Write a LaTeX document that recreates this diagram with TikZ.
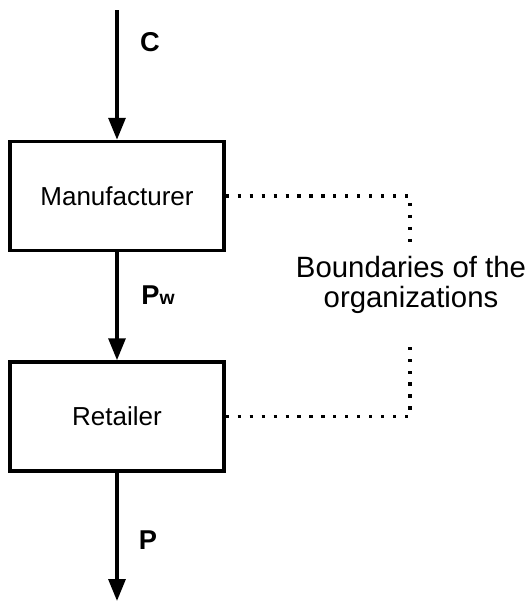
\documentclass[tikz,border=0pt]{standalone}
\usepackage{fontspec}
\setmainfont{Liberation Sans}
\usepackage{tikz}
\usetikzlibrary{arrows.meta,shapes}
\usetikzlibrary{calc}

\tikzset{
	firm/.style={draw, line width=2pt, minimum width=4.28cm, minimum height=2.18cm, inner sep=0pt, font=\fontsize{14.8}{17}\selectfont},
	flow/.style={line width=2pt, -{Triangle[length=12.5pt,width=9.6pt]}},
	boundary/.style={line width=1.8pt, dash pattern=on 1.8pt off 5pt},
	price/.style={font=\fontsize{15.5}{18}\selectfont\bfseries}
}

\begin{document}
\begin{tikzpicture}

	\useasboundingbox (0,0) rectangle (10.54,-12.06);

	\node[firm] (mfr) at (2.34,-3.92) {Manufacturer};
	\node[firm] (ret) at (2.34,-8.33) {Retailer};

	\coordinate (in) at (2.34,-0.2);
	\coordinate (out) at (2.34,-12.02);
	\draw[flow] (in) -- (mfr.north); %cost into the manufacturer
	\draw[flow] (mfr.south) -- (ret.north); %wholesale price
	\draw[flow] (ret.south) -- (out); %retail price

	\node[price] (c) at (3.0,-0.84) {C};
	\node[price] (pw) at (3.16,-5.9) {P{\fontsize{11}{12}\selectfont w}};
	\node[price] (p) at (2.96,-10.8) {P};

	% dotted boundary round both firms
	\node[align=center, font=\fontsize{16.7}{17.5}\selectfont] (note) at (8.22,-5.7) {Boundaries of the\\organizations};
	\coordinate (gaptop) at (8.2,-4.96);
	\coordinate (gapbot) at (8.2,-6.84);
	\draw[boundary] (mfr.east) -| (gaptop);
	\draw[boundary] (ret.east) -| (gapbot);

\end{tikzpicture}
\end{document}
